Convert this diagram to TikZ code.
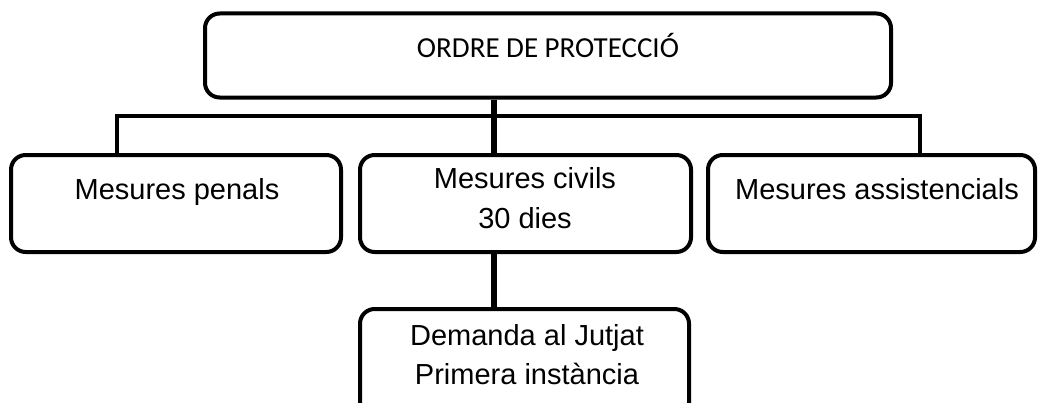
\documentclass[tikz,border=0pt]{standalone}
\usepackage{fontspec}
\setmainfont{Liberation Sans}
\newfontfamily\calibrifont{Carlito}

\tikzset{every picture/.style={line width=0.75pt}}
\tikzset{
  box/.style={draw, line width=3pt, rounded corners=11pt, inner sep=0pt},
  wire/.style={line width=2.6pt},
  stem/.style={line width=4pt},
  lbl/.style={font=\fontsize{21.75}{30}\selectfont, inner sep=0pt, align=center}
}

\begin{document}
\begin{tikzpicture}[x=0.75pt,y=0.75pt,yscale=-1,xscale=1]
\useasboundingbox (0,0) rectangle (1038,403);

%Shape: Rounded Rect [ordre]
\node[box, minimum width=514.5pt, minimum height=63pt] (ordre) at (548,55.5) {};
%Shape: Rounded Rect [penals]
\node[box, minimum width=247.5pt, minimum height=72.75pt] (penals) at (176,203.5) {};
%Shape: Rounded Rect [civils]
\node[box, minimum width=248.25pt, minimum height=72.75pt] (civils) at (525.5,203.5) {};
%Shape: Rounded Rect [assist]
\node[box, minimum width=245.25pt, minimum height=72.75pt] (assist) at (871.5,203.5) {};
%Shape: Rounded Rect [demanda]
\node[box, minimum width=246.75pt, minimum height=82.5pt] (demanda) at (524.5,364) {};

%Straight Lines
\coordinate (hub) at (494,116);
\coordinate (lft) at (117,116);
\coordinate (rgt) at (920,116);
\draw[wire] (lft |- penals.north) -- (lft) -- (rgt) -- (rgt |- assist.north);
\draw[stem] (hub |- ordre.south) -- (hub |- civils.north);
\draw[stem] (hub |- civils.south) -- (hub |- demanda.north);

% Text Node
\node[lbl, anchor=base, font=\calibrifont\fontsize{21.75}{30}\selectfont] (tordre) at (548,58) {ORDRE DE PROTECCIÓ};
% Text Node
\node[lbl, anchor=base] (tpenals) at (177,199) {Mesures penals};
% Text Node
\node[lbl, anchor=base] (tcivils) at (525,188) {Mesures civils};
% Text Node
\node[lbl, anchor=base] (tdies) at (525,228) {30 dies};
% Text Node
\node[lbl, anchor=base] (tassist) at (877,199) {Mesures assistencials};
% Text Node
\node[lbl, anchor=base] (tdemanda) at (527,345) {Demanda al Jutjat};
% Text Node
\node[lbl, anchor=base] (tinstancia) at (527,384) {Primera instància};

\end{tikzpicture}
\end{document}
